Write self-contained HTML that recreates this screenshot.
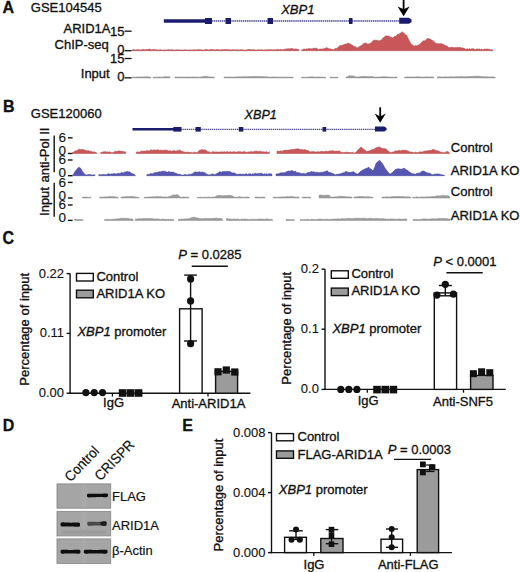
<!DOCTYPE html>
<html><head><meta charset="utf-8"><style>
html,body{margin:0;padding:0;background:#fff;}
body{width:520px;height:572px;overflow:hidden;font-family:"Liberation Sans", sans-serif;}
svg{display:block;}
</style></head><body>
<svg width="520" height="572" viewBox="0 0 520 572" font-family='"Liberation Sans", sans-serif'>
<style>text{stroke:#111;stroke-width:0.32px;} .thin{stroke-width:0.12px;} .mid{stroke-width:0.18px;}</style>
<rect width="520" height="572" fill="#fff"/>
<text x="2.50" y="13.10" font-size="16" text-anchor="start" font-weight="bold" font-style="normal" fill="#111" >A</text>
<text x="30.80" y="11.50" font-size="13" text-anchor="start" font-weight="normal" font-style="normal" fill="#111" >GSE104545</text>
<text x="281.20" y="13.80" font-size="13" text-anchor="start" font-weight="normal" font-style="italic" fill="#111" >XBP1</text>
<line x1="163.80" y1="21.00" x2="205.00" y2="21.00" stroke="#1c1c6e" stroke-width="3.3" />
<line x1="205.00" y1="21.00" x2="400.00" y2="21.00" stroke="#4a4a98" stroke-width="1.5" stroke-dasharray="1.5 0.6"/>
<rect x="205.00" y="18.00" width="7.00" height="6.00" fill="#1c1c6e" stroke="none" stroke-width="0" />
<rect x="225.50" y="18.00" width="5.50" height="6.00" fill="#1c1c6e" stroke="none" stroke-width="0" />
<rect x="267.50" y="18.00" width="5.50" height="6.00" fill="#1c1c6e" stroke="none" stroke-width="0" />
<rect x="349.00" y="18.00" width="3.50" height="6.00" fill="#1c1c6e" stroke="none" stroke-width="0" />
<path d="M399.2,17.8 L408.8,17.8 L411.5,19.4 L411.5,22.2 L408.8,23.8 L399.2,23.8 Z" fill="#1c1c6e"/>
<line x1="403.60" y1="0.00" x2="403.60" y2="10.00" stroke="#000" stroke-width="1.8" />
<path d="M397.6,6.4 L403.6,9.2 L409.6,6.4 L403.6,16.2 Z" fill="#000"/>
<text x="110.50" y="33.00" font-size="13" text-anchor="end" font-weight="normal" font-style="normal" fill="#111" >ARID1A</text>
<text x="108.80" y="49.10" font-size="13" text-anchor="end" font-weight="normal" font-style="normal" fill="#111" >ChIP-seq</text>
<text x="109.70" y="77.70" font-size="13" text-anchor="end" font-weight="normal" font-style="normal" fill="#111" >Input</text>
<text x="124.40" y="36.40" font-size="13" text-anchor="end" font-weight="normal" font-style="normal" fill="#111" >15</text>
<line x1="124.60" y1="31.20" x2="131.60" y2="31.20" stroke="#111" stroke-width="1.3" />
<text x="124.40" y="54.40" font-size="13" text-anchor="end" font-weight="normal" font-style="normal" fill="#111" >0</text>
<line x1="124.60" y1="50.70" x2="131.60" y2="50.70" stroke="#111" stroke-width="1.3" />
<text x="124.40" y="63.40" font-size="13" text-anchor="end" font-weight="normal" font-style="normal" fill="#111" >15</text>
<line x1="124.60" y1="58.50" x2="131.60" y2="58.50" stroke="#111" stroke-width="1.3" />
<text x="124.40" y="81.20" font-size="13" text-anchor="end" font-weight="normal" font-style="normal" fill="#111" >0</text>
<line x1="124.60" y1="77.80" x2="131.60" y2="77.80" stroke="#111" stroke-width="1.3" />
<path d="M132.00,50.70 L132.00,50.10 L133.00,49.59 L134.00,49.63 L135.00,50.01 L136.00,49.79 L137.00,49.80 L138.00,49.61 L139.00,49.47 L140.00,50.00 L141.00,50.03 L142.00,49.35 L143.00,49.65 L144.00,49.36 L145.00,49.94 L146.00,49.55 L147.00,49.31 L148.00,49.67 L149.00,49.07 L150.00,49.08 L151.00,49.81 L152.00,49.84 L153.00,49.46 L154.00,49.17 L155.00,49.65 L156.00,49.81 L157.00,49.67 L158.00,50.02 L159.00,49.89 L160.00,49.75 L161.00,49.72 L162.00,49.95 L163.00,49.97 L164.00,50.00 L165.00,49.83 L166.00,49.98 L167.00,50.10 L168.00,49.58 L169.00,49.83 L170.00,49.78 L171.00,50.10 L172.00,49.53 L173.00,49.66 L174.00,50.10 L175.00,50.10 L176.00,49.83 L177.00,49.85 L178.00,49.69 L179.00,50.10 L180.00,49.82 L181.00,49.96 L182.00,50.10 L183.00,49.99 L184.00,49.73 L185.00,49.74 L186.00,49.99 L187.00,49.90 L188.00,50.10 L189.00,50.10 L190.00,49.67 L191.00,49.96 L192.00,50.10 L193.00,49.81 L194.00,49.66 L195.00,49.67 L196.00,49.88 L197.00,49.81 L198.00,49.74 L199.00,49.50 L200.00,49.68 L201.00,49.79 L202.00,49.71 L203.00,50.08 L204.00,50.07 L205.00,49.54 L206.00,49.31 L207.00,49.63 L208.00,49.79 L209.00,49.96 L210.00,49.70 L211.00,49.31 L212.00,49.48 L213.00,49.67 L214.00,49.41 L215.00,49.91 L216.00,49.69 L217.00,49.34 L218.00,49.64 L219.00,49.73 L220.00,49.88 L221.00,49.66 L222.00,49.34 L223.00,50.10 L224.00,49.49 L225.00,49.46 L226.00,49.41 L227.00,49.53 L228.00,49.48 L229.00,49.72 L230.00,49.68 L231.00,49.80 L232.00,50.10 L233.00,49.45 L234.00,49.69 L235.00,49.99 L236.00,49.75 L237.00,49.77 L238.00,49.87 L239.00,49.89 L240.00,49.74 L241.00,49.67 L242.00,49.68 L243.00,49.81 L244.00,50.10 L245.00,50.00 L246.00,50.04 L247.00,49.72 L248.00,49.50 L249.00,49.56 L250.00,49.56 L251.00,49.54 L252.00,49.98 L253.00,49.50 L254.00,49.62 L255.00,50.08 L256.00,50.10 L257.00,50.10 L258.00,49.52 L259.00,49.91 L260.00,50.01 L261.00,49.59 L262.00,49.80 L263.00,50.01 L264.00,49.93 L265.00,49.63 L266.00,49.91 L267.00,49.81 L268.00,49.45 L269.00,49.65 L270.00,49.74 L271.00,49.61 L272.00,49.96 L273.00,49.66 L274.00,49.62 L275.00,49.80 L276.00,49.85 L277.00,49.21 L278.00,49.51 L279.00,49.74 L280.00,49.42 L281.00,49.17 L282.00,49.72 L283.00,49.65 L284.00,49.46 L285.00,48.92 L286.00,49.29 L287.00,48.78 L288.00,48.72 L289.00,48.74 L290.00,48.92 L291.00,48.38 L292.00,48.58 L293.00,48.86 L294.00,49.15 L295.00,48.87 L296.00,49.13 L297.00,49.04 L298.00,49.58 L299.00,49.66 L299.00,50.70 Z" fill="#c9575a" stroke="#b0474a" stroke-width="0.5" stroke-linejoin="round"/>
<path d="M301.50,50.70 L301.50,50.10 L302.50,49.81 L303.50,49.10 L304.50,48.99 L305.50,49.30 L306.50,48.76 L307.50,49.10 L308.50,48.50 L309.50,48.55 L310.50,48.72 L311.50,48.75 L312.50,48.84 L313.50,48.05 L314.50,48.62 L315.50,48.08 L316.50,48.25 L317.50,48.84 L318.50,49.44 L319.50,49.17 L320.50,49.08 L321.50,49.01 L322.50,48.88 L323.50,48.71 L324.50,48.45 L325.50,48.28 L326.50,47.62 L327.50,48.00 L328.50,48.50 L329.50,48.88 L330.50,48.74 L331.50,49.35 L332.50,49.49 L333.50,49.94 L334.50,48.91 L335.50,48.29 L336.50,48.39 L337.50,47.65 L338.50,46.95 L339.50,45.83 L340.50,45.49 L341.50,45.55 L342.50,45.36 L343.50,44.70 L344.50,44.28 L345.50,43.91 L346.50,44.09 L347.50,43.37 L348.50,43.24 L349.50,43.69 L350.50,43.83 L351.50,44.97 L352.50,45.12 L353.50,46.17 L354.50,46.64 L355.50,46.59 L356.50,47.69 L357.50,47.79 L358.50,47.22 L359.50,46.32 L360.50,46.00 L361.50,45.32 L362.50,44.66 L363.50,43.50 L364.50,43.25 L365.50,43.07 L366.50,43.23 L367.50,43.94 L368.50,43.71 L369.50,43.79 L370.50,43.19 L371.50,42.50 L372.50,41.21 L373.50,40.62 L374.50,39.93 L375.50,40.24 L376.50,40.19 L377.50,40.22 L378.50,40.71 L379.50,40.73 L380.50,40.32 L381.50,39.66 L382.50,38.74 L383.50,37.46 L384.50,36.95 L385.50,35.88 L386.50,35.69 L387.50,36.12 L388.50,35.99 L389.50,36.25 L390.50,37.18 L391.50,36.94 L392.50,37.68 L393.50,37.50 L394.50,36.26 L395.50,36.31 L396.50,35.53 L397.50,34.30 L398.50,34.13 L399.50,33.75 L400.50,33.09 L401.50,32.41 L402.50,31.69 L403.50,33.13 L404.50,33.41 L405.50,34.77 L406.50,35.22 L407.50,37.06 L408.50,39.35 L409.50,41.17 L410.50,42.79 L411.50,44.63 L412.50,44.74 L413.50,45.78 L414.50,46.16 L415.50,45.28 L416.50,45.72 L417.50,45.38 L418.50,45.04 L419.50,44.35 L420.50,43.75 L421.50,42.27 L422.50,41.42 L423.50,40.75 L424.50,40.87 L425.50,40.23 L426.50,39.35 L427.50,38.51 L428.50,38.58 L429.50,38.86 L430.50,39.28 L431.50,40.00 L432.50,40.17 L433.50,41.17 L434.50,42.03 L435.50,42.98 L436.50,43.63 L437.50,43.35 L438.50,43.83 L439.50,43.71 L440.50,43.77 L441.50,43.58 L442.50,44.07 L443.50,44.50 L444.50,45.07 L445.50,45.66 L446.50,45.82 L447.50,46.37 L448.50,47.42 L449.50,47.61 L450.50,47.40 L451.50,47.34 L452.50,47.28 L453.50,47.53 L454.50,47.67 L455.50,47.45 L456.50,47.55 L457.50,47.13 L458.50,47.47 L459.50,47.50 L460.50,47.35 L461.50,47.92 L462.50,47.81 L463.50,48.34 L464.50,48.34 L465.50,49.18 L466.50,48.92 L467.50,48.71 L468.50,49.30 L469.50,48.62 L470.50,49.27 L471.50,48.80 L472.50,48.66 L473.50,48.81 L474.50,49.23 L475.50,49.42 L476.50,49.12 L477.50,48.81 L478.50,49.33 L479.50,48.87 L480.50,49.50 L481.50,48.91 L482.50,49.63 L483.50,49.43 L484.50,48.99 L485.50,49.09 L486.50,49.03 L487.50,49.11 L488.50,49.21 L489.50,49.28 L490.50,49.71 L491.50,49.53 L492.50,49.77 L493.00,50.70 Z" fill="#c9575a" stroke="#b0474a" stroke-width="0.5" stroke-linejoin="round"/>
<path d="M132.00,77.90 L132.00,77.02 L133.00,76.99 L134.00,77.30 L135.00,77.27 L136.00,76.94 L137.00,76.95 L138.00,76.95 L139.00,77.06 L140.00,76.91 L141.00,76.88 L142.00,76.86 L143.00,77.00 L144.00,76.86 L145.00,76.84 L146.00,76.77 L147.00,76.72 L148.00,76.80 L149.00,77.02 L150.00,77.12 L151.00,77.19 L151.00,77.90 Z" fill="#9c9c9c" stroke="#8a8a8a" stroke-width="0.5" stroke-linejoin="round"/>
<path d="M153.00,77.90 L153.00,77.29 L154.00,77.29 L155.00,77.11 L156.00,77.17 L157.00,77.15 L158.00,76.94 L159.00,77.09 L160.00,77.08 L161.00,77.13 L162.00,77.13 L163.00,76.93 L164.00,76.93 L165.00,76.70 L166.00,76.54 L167.00,76.71 L168.00,76.95 L169.00,76.70 L170.00,76.78 L170.00,77.90 Z" fill="#9c9c9c" stroke="#8a8a8a" stroke-width="0.5" stroke-linejoin="round"/>
<path d="M175.00,77.90 L175.00,77.01 L176.00,76.94 L177.00,76.99 L178.00,76.98 L179.00,77.16 L180.00,76.91 L181.00,76.92 L182.00,77.24 L183.00,77.00 L184.00,77.01 L185.00,77.12 L186.00,77.09 L187.00,77.10 L188.00,76.93 L189.00,77.10 L190.00,76.97 L191.00,77.16 L192.00,76.95 L193.00,76.94 L194.00,77.12 L195.00,77.07 L196.00,76.93 L197.00,77.01 L198.00,77.11 L199.00,77.21 L200.00,77.17 L201.00,76.86 L202.00,76.91 L203.00,76.46 L204.00,76.55 L205.00,76.14 L206.00,76.52 L207.00,76.40 L208.00,76.64 L209.00,76.86 L210.00,76.99 L211.00,76.94 L212.00,76.97 L213.00,77.09 L214.00,77.14 L214.60,77.90 Z" fill="#9c9c9c" stroke="#8a8a8a" stroke-width="0.5" stroke-linejoin="round"/>
<path d="M224.00,77.90 L224.00,77.07 L225.00,76.90 L226.00,77.03 L227.00,77.25 L228.00,76.96 L229.00,77.00 L230.00,76.94 L231.00,77.19 L232.00,76.94 L233.00,77.19 L234.00,76.92 L235.00,77.04 L236.00,77.03 L237.00,76.74 L238.00,77.02 L239.00,76.83 L240.00,76.66 L241.00,76.88 L242.00,76.86 L243.00,76.57 L244.00,76.72 L245.00,76.57 L246.00,76.82 L247.00,76.66 L248.00,76.71 L249.00,76.48 L250.00,76.69 L251.00,76.32 L252.00,76.66 L253.00,76.36 L254.00,76.62 L255.00,76.50 L256.00,76.29 L257.00,76.58 L258.00,76.59 L259.00,76.40 L260.00,76.55 L261.00,76.70 L262.00,76.34 L263.00,76.70 L264.00,76.77 L265.00,76.66 L266.00,76.63 L267.00,76.65 L268.00,76.97 L269.00,76.95 L270.00,77.14 L271.00,77.05 L272.00,76.99 L273.00,77.00 L274.00,76.94 L275.00,77.00 L276.00,76.96 L277.00,77.02 L278.00,77.11 L279.00,77.21 L280.00,77.04 L281.00,77.17 L282.00,77.26 L283.00,77.12 L284.00,76.95 L285.00,77.25 L286.00,77.07 L287.00,77.14 L288.00,77.09 L289.00,77.24 L290.00,76.92 L291.00,77.20 L292.00,77.06 L293.00,77.13 L293.50,77.90 Z" fill="#9c9c9c" stroke="#8a8a8a" stroke-width="0.5" stroke-linejoin="round"/>
<path d="M301.50,77.90 L301.50,77.28 L302.50,77.05 L303.50,77.21 L304.50,77.23 L305.50,77.23 L306.50,77.17 L307.50,77.19 L308.50,76.96 L309.50,77.00 L310.50,76.81 L311.50,76.83 L312.50,76.81 L313.50,77.12 L314.50,77.04 L315.50,77.13 L316.50,77.00 L317.50,76.99 L318.50,76.92 L319.50,76.96 L320.50,77.15 L321.50,77.09 L322.50,77.05 L323.50,77.27 L324.50,77.26 L325.50,77.11 L326.00,77.90 Z" fill="#9c9c9c" stroke="#8a8a8a" stroke-width="0.5" stroke-linejoin="round"/>
<path d="M330.00,77.90 L330.00,77.26 L331.00,77.00 L332.00,77.19 L333.00,77.24 L334.00,77.20 L335.00,77.18 L336.00,77.18 L337.00,77.05 L338.00,77.07 L338.00,77.90 Z" fill="#9c9c9c" stroke="#8a8a8a" stroke-width="0.5" stroke-linejoin="round"/>
<path d="M346.00,77.90 L346.00,77.08 L347.00,76.94 L348.00,76.57 L349.00,75.74 L350.00,75.71 L351.00,75.81 L352.00,75.93 L353.00,75.90 L354.00,75.87 L355.00,76.63 L356.00,77.03 L357.00,76.91 L358.00,76.96 L359.00,76.91 L360.00,76.55 L361.00,76.64 L362.00,76.49 L363.00,76.33 L364.00,76.46 L365.00,76.58 L366.00,76.31 L367.00,76.55 L368.00,76.69 L369.00,76.43 L370.00,76.66 L371.00,76.58 L372.00,76.36 L373.00,76.63 L374.00,77.09 L375.00,77.12 L376.00,77.10 L377.00,77.03 L378.00,77.10 L379.00,76.90 L380.00,77.07 L381.00,76.95 L382.00,76.87 L383.00,76.61 L384.00,76.91 L385.00,76.60 L386.00,76.88 L387.00,76.79 L388.00,76.91 L389.00,76.94 L390.00,76.88 L391.00,77.08 L392.00,77.25 L393.00,77.24 L394.00,77.25 L395.00,76.94 L396.00,77.01 L397.00,76.88 L397.00,77.90 Z" fill="#9c9c9c" stroke="#8a8a8a" stroke-width="0.5" stroke-linejoin="round"/>
<path d="M404.60,77.90 L404.60,76.93 L405.60,77.19 L406.60,76.93 L407.60,76.87 L408.60,76.89 L409.60,76.97 L410.60,77.02 L411.60,76.97 L412.60,76.83 L413.60,77.04 L414.60,76.93 L415.60,76.94 L416.60,76.74 L417.60,76.79 L418.60,76.74 L419.60,76.77 L420.60,76.98 L421.60,77.02 L422.60,76.92 L423.60,77.01 L424.60,76.95 L425.60,76.86 L426.60,76.77 L427.60,76.90 L428.60,76.82 L429.60,77.11 L430.60,77.01 L431.60,76.76 L432.60,77.10 L433.60,77.00 L434.00,77.90 Z" fill="#9c9c9c" stroke="#8a8a8a" stroke-width="0.5" stroke-linejoin="round"/>
<path d="M437.00,77.90 L437.00,77.16 L438.00,77.16 L439.00,76.84 L440.00,76.80 L441.00,76.93 L442.00,77.12 L443.00,77.04 L444.00,77.05 L445.00,76.87 L446.00,76.85 L447.00,76.93 L448.00,76.88 L449.00,77.04 L450.00,76.85 L451.00,76.67 L452.00,76.74 L453.00,76.99 L454.00,76.81 L455.00,76.71 L456.00,76.88 L457.00,76.62 L458.00,76.78 L459.00,76.67 L460.00,76.77 L461.00,76.52 L462.00,76.59 L463.00,76.66 L464.00,76.82 L465.00,76.69 L466.00,76.84 L467.00,76.60 L468.00,76.47 L469.00,76.74 L470.00,76.60 L471.00,76.54 L472.00,76.51 L473.00,76.33 L474.00,76.18 L475.00,76.21 L476.00,76.24 L477.00,75.98 L478.00,76.17 L479.00,76.15 L480.00,76.34 L481.00,76.45 L482.00,76.56 L483.00,76.84 L484.00,76.71 L485.00,76.83 L486.00,76.76 L487.00,76.66 L488.00,76.83 L489.00,77.11 L490.00,76.96 L491.00,76.89 L492.00,76.85 L493.00,76.98 L494.00,76.94 L495.00,77.29 L495.60,77.90 Z" fill="#9c9c9c" stroke="#8a8a8a" stroke-width="0.5" stroke-linejoin="round"/>
<text x="2.90" y="111.60" font-size="16" text-anchor="start" font-weight="bold" font-style="normal" fill="#111" >B</text>
<text x="30.80" y="118.20" font-size="13" text-anchor="start" font-weight="normal" font-style="normal" fill="#111" >GSE120060</text>
<text x="244.60" y="119.00" font-size="12.6" text-anchor="start" font-weight="normal" font-style="italic" fill="#111" >XBP1</text>
<line x1="132.50" y1="129.30" x2="174.00" y2="129.30" stroke="#1c1c6e" stroke-width="2.6" />
<line x1="174.00" y1="129.30" x2="376.00" y2="129.30" stroke="#48488f" stroke-width="1.2" stroke-dasharray="1.4 0.7"/>
<rect x="173.30" y="127.00" width="8.20" height="4.60" fill="#1c1c6e" stroke="none" stroke-width="0" />
<rect x="195.50" y="127.00" width="5.30" height="4.60" fill="#1c1c6e" stroke="none" stroke-width="0" />
<rect x="238.80" y="127.00" width="4.50" height="4.60" fill="#1c1c6e" stroke="none" stroke-width="0" />
<rect x="322.50" y="127.00" width="3.70" height="4.60" fill="#1c1c6e" stroke="none" stroke-width="0" />
<path d="M375,126.6 L384.2,126.6 L386.6,128.1 L386.6,130.1 L384.2,131.4 L375,131.4 Z" fill="#1c1c6e"/>
<line x1="380.20" y1="107.30" x2="380.20" y2="117.00" stroke="#000" stroke-width="1.8" />
<path d="M374.6,113.6 L380.2,116.4 L385.8,113.6 L380.2,122.8 Z" fill="#000"/>
<text transform="translate(49.2,155) rotate(-90)" font-size="13" text-anchor="middle" fill="#111">anti-Pol II</text>
<text transform="translate(49.2,201.5) rotate(-90)" font-size="13" text-anchor="middle" fill="#111">Input</text>
<line x1="54.20" y1="135.50" x2="54.20" y2="172.20" stroke="#111" stroke-width="1.4" />
<line x1="54.20" y1="182.70" x2="54.20" y2="216.80" stroke="#111" stroke-width="1.4" />
<text x="65.90" y="142.10" font-size="13.5" text-anchor="end" font-weight="normal" font-style="normal" fill="#111" class="thin">6</text>
<text x="65.90" y="155.00" font-size="13.5" text-anchor="end" font-weight="normal" font-style="normal" fill="#111" class="thin">0</text>
<line x1="67.90" y1="137.80" x2="72.60" y2="137.80" stroke="#111" stroke-width="1.4" />
<line x1="67.90" y1="153.50" x2="72.60" y2="153.50" stroke="#111" stroke-width="1.4" />
<text x="65.90" y="164.30" font-size="13.5" text-anchor="end" font-weight="normal" font-style="normal" fill="#111" class="thin">6</text>
<text x="65.90" y="177.20" font-size="13.5" text-anchor="end" font-weight="normal" font-style="normal" fill="#111" class="thin">0</text>
<line x1="67.90" y1="160.00" x2="72.60" y2="160.00" stroke="#111" stroke-width="1.4" />
<line x1="67.90" y1="175.70" x2="72.60" y2="175.70" stroke="#111" stroke-width="1.4" />
<text x="65.90" y="186.70" font-size="13.5" text-anchor="end" font-weight="normal" font-style="normal" fill="#111" class="thin">6</text>
<text x="65.90" y="199.50" font-size="13.5" text-anchor="end" font-weight="normal" font-style="normal" fill="#111" class="thin">0</text>
<line x1="67.90" y1="182.40" x2="72.60" y2="182.40" stroke="#111" stroke-width="1.4" />
<line x1="67.90" y1="198.00" x2="72.60" y2="198.00" stroke="#111" stroke-width="1.4" />
<text x="65.90" y="209.30" font-size="13.5" text-anchor="end" font-weight="normal" font-style="normal" fill="#111" class="thin">6</text>
<text x="65.90" y="221.90" font-size="13.5" text-anchor="end" font-weight="normal" font-style="normal" fill="#111" class="thin">0</text>
<line x1="67.90" y1="205.00" x2="72.60" y2="205.00" stroke="#111" stroke-width="1.4" />
<line x1="67.90" y1="220.40" x2="72.60" y2="220.40" stroke="#111" stroke-width="1.4" />
<path d="M71.80,153.50 L71.80,152.90 L72.80,152.40 L73.80,152.01 L74.80,151.22 L75.80,150.64 L76.80,150.64 L77.80,150.13 L78.80,148.89 L79.80,149.59 L80.80,149.74 L81.80,149.10 L82.80,149.75 L83.80,149.56 L84.80,150.15 L85.80,150.22 L86.80,150.94 L87.80,150.69 L88.80,150.69 L89.80,151.22 L90.80,151.18 L91.80,151.43 L92.80,152.22 L93.80,151.70 L94.80,152.05 L95.80,152.52 L96.80,152.90 L96.80,153.50 Z" fill="#c9575a" stroke="#b0474a" stroke-width="0.5" stroke-linejoin="round"/>
<path d="M100.70,153.50 L100.70,152.13 L101.70,152.38 L102.70,151.99 L103.70,151.68 L104.70,151.70 L105.70,151.40 L106.70,152.05 L107.70,151.76 L108.70,152.24 L109.70,151.87 L110.70,152.05 L111.70,152.81 L112.70,152.55 L113.70,152.25 L114.70,151.28 L115.70,151.59 L116.70,151.18 L117.70,151.29 L118.70,150.86 L119.70,151.07 L120.70,151.33 L121.70,151.32 L122.70,151.54 L123.70,151.45 L124.70,151.89 L125.70,151.87 L125.70,153.50 Z" fill="#c9575a" stroke="#b0474a" stroke-width="0.5" stroke-linejoin="round"/>
<path d="M136.30,153.50 L136.30,152.14 L137.30,151.83 L138.30,151.97 L139.30,152.30 L140.30,151.42 L141.30,151.14 L142.30,151.02 L143.30,151.19 L144.30,150.92 L145.30,151.29 L146.30,150.54 L147.30,150.67 L148.30,150.82 L149.30,150.91 L150.30,149.99 L151.30,149.73 L152.30,150.50 L153.30,149.66 L154.30,149.92 L155.30,150.19 L156.30,150.10 L157.30,149.68 L158.30,149.63 L159.30,150.51 L160.30,149.99 L161.30,150.61 L162.30,149.99 L163.30,150.43 L164.30,149.94 L165.30,149.91 L166.30,150.45 L167.30,150.02 L168.30,150.78 L169.30,151.08 L170.30,150.59 L171.30,151.14 L172.30,150.96 L173.30,150.73 L174.30,150.50 L175.30,150.94 L176.30,151.03 L177.30,150.19 L178.30,150.72 L179.30,150.06 L180.30,150.21 L181.30,151.09 L182.30,151.37 L183.30,151.67 L184.30,151.90 L185.30,152.21 L186.30,152.26 L187.30,152.22 L188.30,151.91 L189.30,152.36 L190.30,152.46 L191.30,152.18 L192.30,152.68 L193.30,152.64 L194.30,151.98 L195.30,152.45 L196.30,152.44 L197.30,152.71 L198.30,151.37 L199.30,150.27 L200.30,150.18 L201.30,149.58 L202.30,149.57 L203.30,150.14 L204.30,149.57 L205.30,149.96 L206.30,150.52 L207.30,151.61 L208.30,151.79 L209.30,151.74 L210.30,152.45 L211.30,152.39 L212.30,151.77 L213.30,151.46 L214.30,152.16 L215.30,151.94 L216.30,151.79 L217.30,152.05 L218.30,152.00 L219.30,152.03 L220.30,151.96 L221.30,151.72 L222.30,152.00 L223.30,151.91 L224.30,151.51 L225.30,152.24 L226.30,151.68 L227.30,151.50 L228.30,151.91 L229.30,151.99 L230.30,151.40 L231.30,151.97 L232.30,152.04 L233.30,151.80 L234.30,151.54 L235.30,152.15 L236.30,151.94 L237.30,151.94 L238.30,151.45 L239.30,151.85 L240.30,151.45 L241.30,152.14 L242.30,151.99 L243.30,151.68 L244.30,151.46 L245.30,151.90 L246.30,152.14 L247.30,152.25 L248.30,151.85 L249.30,152.20 L250.30,151.56 L251.30,151.43 L252.30,151.99 L253.30,151.79 L254.30,151.16 L255.30,151.23 L256.30,150.96 L257.30,151.32 L258.30,151.50 L259.30,151.46 L260.30,151.07 L261.30,151.71 L262.30,151.75 L263.30,151.79 L264.30,151.90 L265.30,152.00 L266.30,151.51 L267.30,152.29 L268.30,152.46 L269.30,151.54 L269.40,153.50 Z" fill="#c9575a" stroke="#b0474a" stroke-width="0.5" stroke-linejoin="round"/>
<path d="M277.00,153.50 L277.00,151.27 L278.00,151.11 L279.00,151.62 L280.00,151.05 L281.00,150.87 L282.00,151.38 L283.00,150.65 L284.00,150.36 L285.00,150.34 L286.00,150.28 L287.00,150.31 L288.00,150.06 L289.00,149.97 L290.00,149.93 L291.00,149.37 L292.00,149.63 L293.00,149.06 L294.00,149.78 L295.00,148.88 L296.00,149.05 L297.00,148.78 L298.00,148.87 L299.00,148.93 L300.00,149.31 L301.00,149.94 L302.00,149.27 L303.00,149.90 L304.00,149.84 L305.00,149.54 L306.00,150.08 L307.00,150.59 L308.00,150.46 L309.00,151.19 L310.00,151.86 L311.00,151.97 L312.00,151.38 L313.00,151.78 L314.00,151.50 L315.00,151.95 L316.00,152.12 L317.00,151.81 L318.00,151.54 L319.00,152.21 L320.00,151.61 L321.00,151.38 L322.00,151.39 L323.00,151.28 L324.00,151.99 L325.00,151.27 L326.00,150.94 L327.00,151.65 L328.00,151.33 L329.00,151.23 L330.00,150.87 L331.00,150.95 L332.00,150.87 L333.00,150.54 L334.00,151.28 L335.00,151.20 L336.00,151.10 L337.00,151.08 L338.00,151.45 L339.00,150.87 L340.00,151.31 L341.00,152.39 L342.00,152.30 L343.00,152.47 L344.00,152.46 L345.00,152.41 L346.00,152.10 L347.00,152.15 L348.00,152.36 L349.00,152.52 L350.00,152.37 L351.00,152.72 L352.00,152.42 L353.00,152.40 L354.00,152.88 L355.00,152.90 L356.00,152.25 L357.00,151.09 L358.00,149.90 L359.00,148.75 L360.00,148.19 L361.00,146.80 L362.00,147.74 L363.00,148.70 L364.00,149.53 L365.00,150.17 L366.00,150.73 L367.00,151.78 L368.00,151.09 L369.00,150.90 L370.00,150.69 L371.00,149.98 L372.00,149.40 L373.00,149.66 L374.00,148.94 L375.00,148.57 L376.00,147.75 L377.00,147.33 L378.00,147.52 L379.00,146.76 L380.00,147.18 L381.00,148.02 L382.00,148.12 L383.00,148.77 L384.00,148.39 L385.00,148.85 L386.00,149.10 L387.00,149.93 L388.00,150.78 L389.00,151.45 L390.00,152.34 L391.00,152.87 L392.00,152.01 L393.00,152.22 L394.00,151.71 L395.00,150.70 L396.00,151.06 L397.00,150.96 L398.00,150.90 L399.00,150.07 L400.00,150.72 L401.00,150.82 L402.00,149.95 L403.00,150.62 L404.00,149.91 L405.00,150.34 L406.00,150.43 L407.00,150.57 L408.00,151.20 L409.00,151.24 L410.00,152.26 L411.00,151.79 L412.00,152.30 L413.00,152.36 L414.00,152.90 L415.00,152.31 L416.00,152.04 L417.00,152.82 L418.00,152.47 L419.00,152.14 L420.00,151.70 L421.00,152.10 L422.00,151.99 L423.00,151.74 L424.00,151.20 L425.00,150.89 L426.00,151.07 L427.00,150.92 L428.00,150.71 L429.00,150.58 L430.00,150.34 L431.00,150.49 L432.00,149.90 L433.00,149.25 L434.00,149.80 L435.00,149.82 L436.00,150.77 L437.00,150.60 L438.00,150.89 L439.00,151.34 L440.00,151.85 L441.00,152.25 L442.00,152.45 L443.00,152.18 L444.00,152.75 L445.00,152.63 L446.00,151.80 L447.00,151.46 L448.00,151.68 L449.00,152.29 L449.50,153.50 Z" fill="#c9575a" stroke="#b0474a" stroke-width="0.5" stroke-linejoin="round"/>
<path d="M72.80,175.70 L72.80,175.10 L73.80,173.79 L74.80,171.80 L75.80,170.38 L76.80,169.28 L77.80,168.08 L78.80,167.16 L79.80,167.63 L80.80,168.47 L81.80,170.48 L82.80,171.64 L83.80,173.20 L84.80,174.24 L85.80,174.81 L86.80,175.10 L87.80,174.47 L88.80,174.57 L89.80,174.59 L90.80,174.60 L91.80,175.10 L92.80,175.09 L93.80,174.77 L94.80,174.67 L94.90,175.70 Z" fill="#5656b2" stroke="#3c3c99" stroke-width="0.5" stroke-linejoin="round"/>
<path d="M98.80,175.70 L98.80,174.55 L99.80,174.44 L100.80,175.10 L101.80,174.56 L102.80,174.42 L103.80,174.50 L104.80,174.75 L105.80,174.38 L106.80,174.70 L107.80,173.81 L108.80,173.84 L109.80,174.11 L110.80,174.32 L111.80,173.67 L112.80,173.96 L113.80,173.61 L114.80,173.60 L115.80,173.90 L116.80,173.81 L117.80,173.41 L118.80,173.37 L119.80,173.42 L120.80,173.06 L121.80,172.34 L122.80,172.89 L123.80,172.67 L124.80,171.88 L125.80,172.01 L126.80,171.54 L127.80,171.51 L128.80,172.07 L129.80,171.85 L130.80,173.08 L131.80,173.29 L132.80,173.93 L133.80,173.92 L134.80,174.71 L135.30,175.70 Z" fill="#5656b2" stroke="#3c3c99" stroke-width="0.5" stroke-linejoin="round"/>
<path d="M146.80,175.70 L146.80,174.84 L147.80,174.21 L148.80,174.39 L149.80,173.91 L150.80,173.32 L151.80,173.88 L152.80,173.67 L153.80,173.26 L154.80,172.48 L155.80,172.38 L156.80,172.52 L157.80,172.18 L158.80,172.09 L159.80,171.56 L160.80,171.89 L161.80,171.30 L162.80,171.17 L163.80,171.17 L164.80,171.46 L165.80,171.30 L166.80,172.30 L167.80,172.10 L168.80,171.53 L169.80,171.83 L170.80,172.31 L171.80,171.89 L172.80,172.33 L173.80,172.24 L174.80,172.88 L175.80,173.33 L176.80,173.48 L177.80,174.18 L178.80,174.34 L179.80,174.16 L180.80,174.85 L181.80,175.10 L182.80,175.10 L183.80,174.95 L184.80,174.32 L185.80,174.72 L186.80,174.77 L187.80,174.95 L188.80,174.04 L189.80,174.58 L190.80,174.34 L191.80,173.93 L192.80,173.38 L193.80,172.70 L194.80,171.64 L195.80,172.10 L196.80,172.27 L197.80,171.88 L198.80,172.19 L199.80,171.50 L200.80,172.44 L201.80,172.10 L202.80,171.91 L203.80,172.66 L204.80,172.54 L205.80,173.51 L206.80,174.21 L207.80,174.50 L208.80,174.93 L209.80,174.50 L210.80,174.63 L211.80,173.95 L212.80,173.96 L213.80,174.25 L214.80,174.68 L215.80,174.05 L216.80,173.56 L217.80,173.09 L218.80,172.57 L219.80,171.43 L220.80,172.06 L221.80,172.15 L222.80,171.27 L223.80,171.63 L224.80,171.21 L225.80,171.80 L226.80,171.30 L227.80,171.55 L228.80,171.41 L229.80,171.46 L230.80,172.01 L231.80,172.80 L232.80,173.07 L233.80,172.79 L234.80,173.15 L235.80,173.51 L236.80,174.49 L237.80,174.23 L238.80,174.07 L239.80,174.21 L240.80,174.03 L241.80,174.30 L242.80,174.16 L243.80,174.11 L244.80,174.51 L245.80,173.84 L246.80,173.79 L247.80,174.66 L248.80,173.75 L249.80,173.74 L250.80,173.94 L251.80,174.45 L252.80,173.49 L253.80,174.14 L254.80,173.19 L255.80,173.38 L256.80,173.87 L257.80,173.66 L258.80,173.23 L259.80,173.39 L260.80,173.29 L261.80,173.20 L262.80,173.99 L263.80,174.29 L264.80,173.46 L265.80,174.42 L266.80,173.60 L267.80,174.40 L268.80,173.74 L269.80,173.81 L270.80,173.74 L271.80,174.08 L272.00,175.70 Z" fill="#5656b2" stroke="#3c3c99" stroke-width="0.5" stroke-linejoin="round"/>
<path d="M276.00,175.70 L276.00,173.82 L277.00,174.28 L278.00,173.58 L279.00,173.70 L280.00,172.92 L281.00,172.82 L282.00,172.90 L283.00,172.62 L284.00,172.90 L285.00,172.67 L286.00,171.84 L287.00,171.69 L288.00,171.05 L289.00,171.05 L290.00,171.25 L291.00,170.77 L292.00,170.39 L293.00,170.95 L294.00,171.78 L295.00,171.27 L296.00,171.60 L297.00,172.66 L298.00,172.52 L299.00,173.00 L300.00,172.91 L301.00,173.49 L302.00,173.67 L303.00,173.51 L304.00,173.13 L305.00,174.10 L306.00,173.80 L307.00,173.01 L308.00,172.46 L309.00,172.54 L310.00,172.34 L311.00,171.63 L312.00,171.42 L313.00,172.28 L314.00,171.60 L315.00,172.43 L316.00,172.47 L317.00,172.08 L318.00,172.63 L319.00,172.40 L320.00,172.83 L321.00,171.93 L322.00,172.42 L323.00,172.25 L324.00,171.71 L325.00,171.66 L326.00,171.26 L327.00,170.70 L328.00,171.31 L329.00,172.44 L330.00,172.56 L331.00,172.76 L332.00,173.24 L333.00,173.43 L334.00,174.09 L335.00,174.92 L336.00,174.69 L337.00,174.03 L338.00,174.46 L339.00,173.99 L340.00,173.71 L341.00,173.66 L342.00,173.19 L343.00,172.84 L344.00,172.72 L345.00,171.70 L346.00,171.73 L347.00,171.59 L348.00,172.49 L349.00,172.23 L350.00,172.61 L351.00,172.32 L352.00,172.02 L353.00,171.86 L354.00,171.85 L355.00,172.89 L356.00,173.21 L357.00,174.37 L358.00,173.74 L359.00,173.00 L360.00,171.66 L361.00,171.61 L362.00,170.21 L363.00,170.07 L364.00,169.28 L365.00,169.03 L366.00,168.28 L367.00,168.33 L368.00,167.54 L369.00,167.36 L370.00,168.81 L371.00,169.04 L372.00,170.07 L373.00,170.80 L374.00,168.81 L375.00,166.55 L376.00,163.35 L377.00,162.53 L378.00,161.61 L379.00,160.66 L380.00,160.39 L381.00,162.28 L382.00,162.95 L383.00,164.40 L384.00,166.33 L385.00,167.96 L386.00,169.75 L387.00,170.56 L388.00,172.43 L389.00,172.92 L390.00,173.92 L391.00,173.69 L392.00,172.87 L393.00,171.71 L394.00,171.29 L395.00,169.72 L396.00,169.29 L397.00,169.04 L398.00,168.69 L399.00,168.83 L400.00,169.16 L401.00,169.19 L402.00,169.03 L403.00,168.68 L404.00,168.25 L405.00,168.44 L406.00,169.62 L407.00,170.31 L408.00,170.58 L409.00,171.80 L410.00,172.30 L411.00,173.22 L412.00,173.57 L413.00,173.73 L414.00,174.10 L415.00,174.18 L416.00,174.09 L417.00,173.16 L418.00,173.14 L419.00,173.26 L420.00,173.01 L421.00,171.76 L422.00,171.40 L423.00,171.12 L424.00,171.10 L425.00,171.82 L426.00,172.47 L427.00,172.73 L428.00,173.19 L429.00,172.91 L430.00,173.38 L431.00,173.92 L432.00,174.83 L433.00,174.65 L434.00,174.50 L435.00,173.77 L436.00,174.47 L437.00,173.75 L438.00,173.90 L439.00,174.19 L440.00,173.93 L441.00,174.78 L442.00,174.67 L443.00,175.10 L444.00,175.10 L444.60,175.70 Z" fill="#5656b2" stroke="#3c3c99" stroke-width="0.5" stroke-linejoin="round"/>
<path d="M82.40,198.00 L82.40,197.13 L83.40,197.05 L84.40,197.02 L85.40,196.93 L86.40,197.06 L87.40,196.95 L88.40,197.48 L89.40,197.22 L90.40,196.93 L91.00,198.00 Z" fill="#9c9c9c" stroke="#8a8a8a" stroke-width="0.5" stroke-linejoin="round"/>
<path d="M99.70,198.00 L99.70,197.11 L100.70,196.90 L101.70,197.30 L102.70,197.00 L103.70,197.06 L104.70,196.80 L105.70,196.70 L106.70,196.96 L107.70,196.75 L108.70,196.69 L109.70,196.31 L110.70,196.40 L111.70,196.76 L112.70,196.38 L113.70,196.78 L114.70,196.49 L115.70,196.93 L116.70,197.22 L117.70,196.91 L118.40,198.00 Z" fill="#9c9c9c" stroke="#8a8a8a" stroke-width="0.5" stroke-linejoin="round"/>
<path d="M120.90,198.00 L120.90,197.37 L121.90,197.31 L122.90,196.78 L123.90,196.77 L124.90,197.05 L125.90,196.57 L126.90,196.76 L127.90,196.60 L128.90,196.82 L129.90,196.30 L130.90,196.47 L131.90,196.34 L132.90,196.42 L133.90,196.81 L134.90,196.80 L135.90,197.03 L136.90,197.16 L137.90,197.33 L138.90,197.31 L139.20,198.00 Z" fill="#9c9c9c" stroke="#8a8a8a" stroke-width="0.5" stroke-linejoin="round"/>
<path d="M144.00,198.00 L144.00,197.14 L145.00,197.45 L146.00,197.00 L147.00,197.16 L148.00,197.13 L149.00,196.78 L150.00,196.94 L151.00,196.99 L152.00,196.85 L153.00,196.67 L154.00,197.01 L155.00,196.41 L156.00,196.94 L157.00,196.46 L158.00,196.35 L159.00,196.90 L160.00,196.48 L161.00,196.78 L162.00,196.70 L163.00,197.09 L164.00,197.12 L165.00,197.09 L166.00,196.67 L167.00,197.17 L168.00,196.89 L169.00,196.46 L170.00,196.13 L171.00,196.01 L172.00,195.53 L173.00,194.95 L174.00,194.79 L175.00,195.20 L176.00,194.81 L177.00,194.78 L178.00,194.74 L179.00,196.28 L180.00,196.77 L181.00,197.30 L182.00,197.17 L183.00,197.03 L184.00,196.86 L185.00,197.22 L186.00,196.89 L187.00,197.14 L188.00,197.29 L189.00,197.31 L189.00,198.00 Z" fill="#9c9c9c" stroke="#8a8a8a" stroke-width="0.5" stroke-linejoin="round"/>
<path d="M197.00,198.00 L197.00,197.50 L198.00,197.50 L199.00,197.50 L200.00,197.19 L201.00,196.99 L202.00,197.47 L203.00,197.50 L204.00,196.94 L205.00,197.20 L206.00,197.26 L207.00,197.34 L208.00,197.11 L209.00,196.95 L210.00,197.16 L211.00,197.16 L212.00,197.36 L213.00,196.83 L214.00,197.34 L215.00,197.04 L216.00,196.12 L217.00,195.82 L218.00,195.46 L219.00,195.33 L220.00,195.52 L221.00,195.43 L222.00,195.84 L223.00,195.64 L224.00,195.81 L225.00,195.39 L226.00,195.72 L227.00,195.63 L228.00,195.30 L229.00,195.39 L230.00,195.31 L231.00,195.63 L232.00,195.61 L233.00,196.18 L234.00,197.05 L235.00,197.17 L236.00,197.11 L237.00,197.27 L238.00,197.13 L239.00,196.77 L240.00,196.80 L241.00,197.00 L242.00,197.08 L243.00,197.18 L244.00,197.34 L245.00,197.23 L246.00,196.93 L247.00,196.89 L248.00,197.20 L249.00,196.95 L249.60,198.00 Z" fill="#9c9c9c" stroke="#8a8a8a" stroke-width="0.5" stroke-linejoin="round"/>
<path d="M255.00,198.00 L255.00,196.98 L256.00,197.04 L257.00,197.06 L258.00,197.01 L259.00,197.25 L260.00,197.05 L261.00,197.31 L262.00,197.19 L263.00,197.03 L264.00,197.08 L265.00,197.32 L265.00,198.00 Z" fill="#9c9c9c" stroke="#8a8a8a" stroke-width="0.5" stroke-linejoin="round"/>
<path d="M273.50,198.00 L273.50,196.93 L274.50,197.10 L275.50,197.11 L276.50,197.42 L277.50,197.07 L278.50,197.21 L279.50,196.93 L280.50,197.03 L281.50,196.78 L282.50,196.86 L283.50,196.74 L284.50,196.98 L285.50,196.77 L286.50,196.68 L287.50,196.60 L288.50,196.85 L289.50,196.53 L290.50,196.52 L291.50,196.68 L292.50,196.55 L293.50,196.61 L294.50,196.93 L295.50,196.97 L296.50,197.23 L297.50,196.88 L298.50,196.87 L299.40,198.00 Z" fill="#9c9c9c" stroke="#8a8a8a" stroke-width="0.5" stroke-linejoin="round"/>
<path d="M302.30,198.00 L302.30,197.21 L303.30,197.09 L304.30,197.07 L305.30,197.06 L306.30,197.40 L307.30,197.03 L308.30,197.15 L309.30,197.10 L310.30,197.25 L311.00,198.00 Z" fill="#9c9c9c" stroke="#8a8a8a" stroke-width="0.5" stroke-linejoin="round"/>
<path d="M319.00,198.00 L319.00,195.27 L320.00,195.04 L321.00,195.12 L322.00,195.07 L323.00,195.48 L324.00,195.40 L325.00,195.24 L326.00,195.11 L327.00,195.37 L328.00,195.09 L329.00,195.12 L330.00,196.39 L331.00,197.06 L332.00,197.12 L333.00,197.13 L334.00,196.99 L335.00,196.79 L336.00,196.79 L337.00,196.69 L338.00,196.70 L339.00,196.35 L340.00,196.31 L341.00,196.24 L342.00,196.32 L343.00,196.60 L344.00,196.26 L345.00,196.87 L346.00,196.70 L347.00,196.84 L348.00,196.83 L349.00,197.07 L350.00,196.71 L351.00,197.05 L352.00,197.32 L352.30,198.00 Z" fill="#9c9c9c" stroke="#8a8a8a" stroke-width="0.5" stroke-linejoin="round"/>
<path d="M354.00,198.00 L354.00,196.88 L355.00,197.14 L356.00,196.82 L357.00,196.90 L358.00,196.70 L359.00,196.43 L360.00,196.46 L361.00,196.66 L362.00,196.37 L363.00,196.53 L364.00,196.75 L365.00,196.95 L366.00,196.74 L367.00,196.81 L368.00,196.63 L369.00,196.69 L370.00,196.96 L371.00,197.17 L372.00,196.91 L373.00,197.50 L373.30,198.00 Z" fill="#9c9c9c" stroke="#8a8a8a" stroke-width="0.5" stroke-linejoin="round"/>
<path d="M382.00,198.00 L382.00,197.28 L383.00,196.97 L384.00,196.92 L385.00,197.18 L386.00,196.86 L387.00,196.67 L388.00,196.95 L389.00,196.89 L390.00,196.99 L391.00,196.93 L392.00,196.49 L393.00,196.82 L394.00,196.44 L395.00,196.45 L396.00,196.61 L397.00,196.78 L398.00,196.32 L399.00,196.59 L400.00,196.61 L401.00,196.70 L402.00,196.33 L403.00,196.65 L404.00,196.80 L405.00,196.72 L406.00,196.96 L407.00,196.69 L408.00,196.83 L409.00,196.95 L410.00,196.68 L410.80,198.00 Z" fill="#9c9c9c" stroke="#8a8a8a" stroke-width="0.5" stroke-linejoin="round"/>
<path d="M412.70,198.00 L412.70,196.96 L413.70,197.48 L414.70,197.14 L415.70,197.27 L416.70,196.85 L417.70,196.92 L418.70,197.22 L419.70,197.18 L420.70,197.23 L421.70,196.70 L422.70,197.10 L423.70,196.88 L424.70,196.94 L425.70,196.81 L426.70,196.82 L427.70,196.71 L428.70,197.06 L429.70,196.65 L430.70,196.84 L431.70,196.58 L432.70,196.57 L433.70,196.48 L434.70,196.22 L435.70,196.14 L436.70,196.08 L437.70,195.73 L438.70,195.70 L439.70,195.91 L440.70,195.75 L441.70,195.63 L442.70,195.35 L443.70,195.37 L444.70,195.57 L445.70,195.89 L446.70,195.43 L447.70,195.64 L448.70,195.97 L449.70,196.50 L450.00,198.00 Z" fill="#9c9c9c" stroke="#8a8a8a" stroke-width="0.5" stroke-linejoin="round"/>
<path d="M74.70,220.40 L74.70,219.10 L75.70,219.12 L76.70,219.36 L77.70,219.53 L78.70,219.73 L79.70,219.37 L80.70,219.52 L81.70,219.38 L82.70,219.65 L83.40,220.40 Z" fill="#9c9c9c" stroke="#8a8a8a" stroke-width="0.5" stroke-linejoin="round"/>
<path d="M104.50,220.40 L104.50,219.44 L105.50,219.70 L106.50,219.34 L107.50,219.35 L108.50,219.50 L109.50,219.39 L110.50,219.26 L111.50,219.52 L112.50,219.26 L113.50,219.07 L114.50,219.36 L115.50,218.95 L116.50,218.88 L117.50,218.65 L118.50,218.82 L119.50,218.83 L120.50,218.27 L121.50,218.13 L122.50,218.21 L123.50,218.28 L124.50,218.27 L125.50,218.13 L126.50,218.46 L127.50,218.19 L128.50,218.53 L129.50,218.89 L130.50,218.74 L131.50,219.05 L132.50,218.83 L133.40,220.40 Z" fill="#9c9c9c" stroke="#8a8a8a" stroke-width="0.5" stroke-linejoin="round"/>
<path d="M135.30,220.40 L135.30,218.95 L136.30,219.11 L137.30,218.95 L138.30,218.83 L139.30,218.69 L140.30,218.50 L141.30,218.99 L142.30,218.71 L143.30,218.48 L144.30,218.58 L145.30,218.35 L146.30,218.65 L147.30,218.17 L148.30,218.38 L149.30,218.63 L150.30,218.33 L151.30,218.62 L152.30,218.77 L153.30,218.67 L154.30,218.96 L155.30,219.00 L156.30,218.68 L157.30,218.87 L158.30,219.36 L159.30,218.98 L160.30,219.49 L161.30,219.31 L162.30,218.98 L163.30,219.16 L164.30,219.36 L165.30,219.33 L166.30,219.33 L167.30,219.50 L168.30,219.00 L169.30,219.62 L170.30,219.45 L171.30,219.31 L172.30,219.57 L173.30,219.27 L174.00,220.40 Z" fill="#9c9c9c" stroke="#8a8a8a" stroke-width="0.5" stroke-linejoin="round"/>
<path d="M178.00,220.40 L178.00,219.75 L179.00,219.23 L180.00,219.20 L181.00,219.26 L182.00,219.05 L183.00,219.23 L184.00,218.92 L185.00,218.86 L186.00,218.95 L187.00,218.90 L188.00,218.68 L189.00,218.55 L190.00,218.44 L191.00,217.74 L192.00,217.73 L193.00,217.29 L194.00,216.92 L195.00,217.51 L196.00,217.83 L197.00,218.00 L198.00,217.95 L199.00,218.31 L200.00,218.60 L201.00,218.71 L202.00,218.51 L203.00,218.84 L204.00,218.67 L205.00,218.32 L206.00,218.41 L207.00,218.54 L208.00,218.42 L209.00,218.41 L210.00,218.61 L211.00,218.47 L212.00,218.52 L213.00,218.22 L214.00,218.51 L215.00,218.30 L216.00,218.12 L217.00,218.15 L218.00,218.47 L219.00,218.34 L220.00,218.51 L221.00,218.47 L222.00,218.46 L222.70,220.40 Z" fill="#9c9c9c" stroke="#8a8a8a" stroke-width="0.5" stroke-linejoin="round"/>
<path d="M226.50,220.40 L226.50,218.49 L227.50,218.45 L228.50,218.88 L229.50,219.10 L230.50,218.87 L231.50,219.16 L232.50,219.22 L233.50,218.82 L234.50,219.26 L235.50,218.94 L236.50,219.20 L237.50,218.90 L238.50,219.00 L239.50,219.52 L240.50,219.46 L241.50,219.00 L242.50,219.20 L243.50,219.30 L244.50,219.08 L245.50,219.06 L246.50,219.24 L247.50,219.25 L248.50,219.47 L249.50,219.30 L250.50,219.43 L251.50,219.13 L252.50,219.14 L253.50,219.41 L254.50,219.11 L255.50,219.42 L256.50,219.41 L257.50,219.08 L258.50,219.18 L259.50,218.92 L260.50,219.07 L261.50,219.02 L262.50,219.36 L263.50,218.93 L264.50,219.37 L265.50,219.08 L266.50,218.96 L267.50,219.03 L268.50,219.09 L269.50,219.42 L270.50,219.33 L271.50,219.34 L272.50,219.79 L273.00,220.40 Z" fill="#9c9c9c" stroke="#8a8a8a" stroke-width="0.5" stroke-linejoin="round"/>
<path d="M286.00,220.40 L286.00,219.33 L287.00,219.35 L288.00,219.64 L289.00,219.43 L290.00,219.63 L291.00,219.73 L292.00,219.47 L293.00,219.86 L294.00,219.42 L294.60,220.40 Z" fill="#9c9c9c" stroke="#8a8a8a" stroke-width="0.5" stroke-linejoin="round"/>
<path d="M300.40,220.40 L300.40,219.31 L301.40,219.71 L302.40,219.30 L303.40,219.80 L304.40,219.31 L305.40,219.65 L306.40,219.22 L307.40,219.52 L308.40,219.21 L309.40,219.73 L310.40,219.68 L311.40,219.23 L312.40,219.32 L313.40,219.36 L314.40,219.65 L315.40,219.55 L316.40,219.42 L317.40,219.59 L318.40,219.01 L319.40,219.13 L320.40,219.00 L321.40,219.14 L322.40,219.34 L323.40,219.48 L324.40,219.07 L325.40,219.43 L326.40,219.15 L327.40,219.18 L328.40,219.15 L329.40,219.38 L330.40,219.36 L331.40,219.06 L332.40,219.32 L333.40,218.98 L334.40,219.17 L335.40,219.06 L336.40,219.10 L337.40,218.81 L338.40,218.88 L339.40,218.95 L340.40,218.91 L341.40,218.67 L342.40,218.43 L343.40,218.69 L344.40,218.80 L345.40,218.68 L346.40,218.69 L347.40,218.45 L348.40,218.29 L349.40,218.38 L350.40,218.59 L351.40,218.50 L352.40,218.47 L353.40,218.44 L354.40,218.46 L355.40,218.10 L356.40,218.37 L357.40,218.30 L358.40,218.27 L359.40,218.31 L360.40,218.21 L361.40,218.47 L362.40,218.28 L363.40,218.09 L364.40,218.57 L365.40,218.29 L366.40,218.43 L367.40,218.61 L368.40,218.62 L369.40,218.18 L370.40,218.56 L371.40,218.20 L372.40,218.58 L373.40,218.46 L374.40,218.71 L375.40,218.45 L376.40,218.34 L377.40,218.72 L378.40,218.57 L379.40,218.40 L380.40,218.82 L381.40,218.76 L382.40,218.65 L383.40,218.61 L384.40,219.07 L385.40,218.82 L386.40,219.19 L387.40,219.24 L388.40,218.76 L389.40,219.36 L390.40,218.87 L391.40,218.97 L392.40,219.01 L393.40,218.98 L394.40,219.03 L395.40,219.25 L396.40,219.15 L397.40,219.30 L398.40,218.90 L399.40,218.95 L400.40,218.95 L401.40,219.29 L402.40,219.06 L403.40,219.27 L404.40,218.95 L405.40,218.97 L406.40,218.82 L407.00,220.40 Z" fill="#9c9c9c" stroke="#8a8a8a" stroke-width="0.5" stroke-linejoin="round"/>
<path d="M413.00,220.40 L413.00,219.48 L414.00,219.44 L415.00,219.34 L416.00,219.70 L417.00,219.35 L418.00,219.65 L419.00,219.40 L420.00,219.50 L421.00,218.95 L422.00,219.46 L423.00,218.88 L424.00,218.81 L425.00,219.07 L426.00,218.79 L427.00,219.21 L428.00,219.11 L429.00,219.14 L430.00,219.06 L431.00,219.08 L432.00,218.56 L433.00,218.98 L434.00,218.66 L435.00,218.83 L436.00,218.89 L437.00,218.70 L438.00,218.82 L439.00,218.32 L440.00,218.66 L441.00,218.51 L442.00,218.51 L443.00,218.45 L444.00,218.51 L445.00,218.62 L446.00,218.83 L447.00,218.50 L448.00,219.05 L449.00,219.02 L450.00,218.93 L450.00,220.40 Z" fill="#9c9c9c" stroke="#8a8a8a" stroke-width="0.5" stroke-linejoin="round"/>
<text x="450.80" y="151.90" font-size="13" text-anchor="start" font-weight="normal" font-style="normal" fill="#111" >Control</text>
<text x="450.80" y="175.40" font-size="13" text-anchor="start" font-weight="normal" font-style="normal" fill="#111" >ARID1A KO</text>
<text x="450.80" y="196.20" font-size="13" text-anchor="start" font-weight="normal" font-style="normal" fill="#111" >Control</text>
<text x="450.80" y="219.60" font-size="13" text-anchor="start" font-weight="normal" font-style="normal" fill="#111" >ARID1A KO</text>
<text transform="translate(2.6,244.1) scale(1,1.09)" font-size="16" font-weight="bold" fill="#111">C</text>
<text transform="translate(29.4,329.3) rotate(-90)" font-size="13" text-anchor="middle" fill="#111">Percentage of input</text>
<line x1="70.10" y1="273.60" x2="70.10" y2="393.85" stroke="#111" stroke-width="1.4" />
<line x1="69.40" y1="393.20" x2="250.40" y2="393.20" stroke="#111" stroke-width="1.4" />
<line x1="66.60" y1="273.60" x2="70.10" y2="273.60" stroke="#111" stroke-width="1.4" />
<text x="64.00" y="277.50" font-size="13" text-anchor="end" font-weight="normal" font-style="normal" fill="#111" class="thin">0.22</text>
<line x1="66.60" y1="333.40" x2="70.10" y2="333.40" stroke="#111" stroke-width="1.4" />
<text x="64.00" y="337.30" font-size="13" text-anchor="end" font-weight="normal" font-style="normal" fill="#111" class="thin">0.11</text>
<line x1="66.60" y1="393.20" x2="70.10" y2="393.20" stroke="#111" stroke-width="1.4" />
<text x="64.00" y="397.10" font-size="13" text-anchor="end" font-weight="normal" font-style="normal" fill="#111" class="thin">0.00</text>
<line x1="112.40" y1="393.20" x2="112.40" y2="396.50" stroke="#111" stroke-width="1.3" />
<line x1="208.00" y1="393.20" x2="208.00" y2="396.50" stroke="#111" stroke-width="1.3" />
<rect x="76.50" y="273.40" width="16.80" height="7.60" fill="#fff" stroke="#111" stroke-width="1.4" />
<rect x="76.50" y="290.20" width="16.80" height="7.60" fill="#9b9b9b" stroke="#111" stroke-width="1.4" />
<text x="96.40" y="280.90" font-size="13" text-anchor="start" font-weight="normal" font-style="normal" fill="#111" >Control</text>
<text x="96.40" y="297.80" font-size="13" text-anchor="start" font-weight="normal" font-style="normal" fill="#111" >ARID1A KO</text>
<text x="77.4" y="335.9" font-size="13" fill="#111"><tspan font-style="italic">XBP1</tspan> promoter</text>
<circle cx="85.90" cy="392.60" r="3.6" fill="#111"/>
<circle cx="94.20" cy="392.60" r="3.6" fill="#111"/>
<circle cx="102.50" cy="392.60" r="3.6" fill="#111"/>
<rect x="118.80" y="389.20" width="7.6" height="7.6" fill="#111"/>
<rect x="126.80" y="389.20" width="7.6" height="7.6" fill="#111"/>
<rect x="134.80" y="389.20" width="7.6" height="7.6" fill="#111"/>
<text x="113.60" y="407.40" font-size="13" text-anchor="middle" font-weight="normal" font-style="normal" fill="#111" >IgG</text>
<rect x="179.60" y="308.80" width="22.50" height="84.40" fill="#fff" stroke="#111" stroke-width="1.4" />
<line x1="190.60" y1="275.10" x2="190.60" y2="341.00" stroke="#111" stroke-width="1.4" />
<line x1="184.20" y1="275.10" x2="196.90" y2="275.10" stroke="#111" stroke-width="1.4" />
<line x1="184.00" y1="341.00" x2="197.00" y2="341.00" stroke="#111" stroke-width="1.4" />
<circle cx="190.60" cy="278.90" r="3.6" fill="#111"/>
<circle cx="190.60" cy="300.90" r="3.6" fill="#111"/>
<circle cx="190.60" cy="343.70" r="3.6" fill="#111"/>
<rect x="215.60" y="371.30" width="22.00" height="21.90" fill="#9b9b9b" stroke="#111" stroke-width="1.4" />
<rect x="214.40" y="368.20" width="7.2" height="7.2" fill="#111"/>
<rect x="222.70" y="366.40" width="7.2" height="7.2" fill="#111"/>
<rect x="231.20" y="368.40" width="7.2" height="7.2" fill="#111"/>
<text x="208.50" y="407.60" font-size="13" text-anchor="middle" font-weight="normal" font-style="normal" fill="#111" >Anti-ARID1A</text>
<text x="178.2" y="259.2" font-size="13" fill="#111"><tspan font-style="italic">P</tspan> = 0.0285</text>
<line x1="191.70" y1="266.30" x2="227.80" y2="266.30" stroke="#111" stroke-width="1.4" />
<text transform="translate(291.2,328.3) rotate(-90)" font-size="13" text-anchor="middle" fill="#111">Percentage of input</text>
<line x1="325.00" y1="269.20" x2="325.00" y2="390.05" stroke="#111" stroke-width="1.4" />
<line x1="324.30" y1="389.40" x2="505.80" y2="389.40" stroke="#111" stroke-width="1.4" />
<line x1="321.50" y1="269.20" x2="325.00" y2="269.20" stroke="#111" stroke-width="1.4" />
<text x="318.90" y="273.10" font-size="13" text-anchor="end" font-weight="normal" font-style="normal" fill="#111" class="thin">0.2</text>
<line x1="321.50" y1="329.20" x2="325.00" y2="329.20" stroke="#111" stroke-width="1.4" />
<text x="318.90" y="333.10" font-size="13" text-anchor="end" font-weight="normal" font-style="normal" fill="#111" class="thin">0.1</text>
<line x1="321.50" y1="389.40" x2="325.00" y2="389.40" stroke="#111" stroke-width="1.4" />
<text x="318.90" y="393.30" font-size="13" text-anchor="end" font-weight="normal" font-style="normal" fill="#111" class="thin">0.0</text>
<line x1="367.30" y1="389.40" x2="367.30" y2="392.70" stroke="#111" stroke-width="1.3" />
<line x1="463.50" y1="389.40" x2="463.50" y2="392.70" stroke="#111" stroke-width="1.3" />
<rect x="331.30" y="270.80" width="17.00" height="7.50" fill="#fff" stroke="#111" stroke-width="1.4" />
<rect x="331.30" y="288.10" width="17.00" height="7.50" fill="#9b9b9b" stroke="#111" stroke-width="1.4" />
<text x="351.40" y="278.10" font-size="13" text-anchor="start" font-weight="normal" font-style="normal" fill="#111" >Control</text>
<text x="351.40" y="295.10" font-size="13" text-anchor="start" font-weight="normal" font-style="normal" fill="#111" >ARID1A KO</text>
<text x="332.4" y="333.0" font-size="13" fill="#111"><tspan font-style="italic">XBP1</tspan> promoter</text>
<circle cx="340.80" cy="389.40" r="3.6" fill="#111"/>
<circle cx="348.80" cy="389.40" r="3.6" fill="#111"/>
<circle cx="356.90" cy="389.40" r="3.6" fill="#111"/>
<rect x="373.20" y="385.80" width="7.6" height="7.6" fill="#111"/>
<rect x="381.40" y="385.80" width="7.6" height="7.6" fill="#111"/>
<rect x="389.60" y="385.80" width="7.6" height="7.6" fill="#111"/>
<text x="368.20" y="405.00" font-size="13" text-anchor="middle" font-weight="normal" font-style="normal" fill="#111" >IgG</text>
<rect x="434.30" y="292.90" width="22.30" height="96.50" fill="#fff" stroke="#111" stroke-width="1.4" />
<line x1="445.30" y1="285.50" x2="445.30" y2="295.80" stroke="#111" stroke-width="1.4" />
<line x1="438.90" y1="285.50" x2="451.90" y2="285.50" stroke="#111" stroke-width="1.4" />
<line x1="438.90" y1="295.80" x2="451.90" y2="295.80" stroke="#111" stroke-width="1.4" />
<circle cx="445.30" cy="284.30" r="3.6" fill="#111"/>
<circle cx="436.90" cy="295.10" r="3.6" fill="#111"/>
<circle cx="453.40" cy="294.10" r="3.6" fill="#111"/>
<rect x="470.60" y="375.40" width="22.40" height="14.00" fill="#9b9b9b" stroke="#111" stroke-width="1.4" />
<rect x="469.90" y="370.20" width="7.0" height="7.0" fill="#111"/>
<rect x="478.10" y="368.30" width="7.0" height="7.0" fill="#111"/>
<rect x="486.30" y="369.20" width="7.0" height="7.0" fill="#111"/>
<text x="463.00" y="405.80" font-size="13" text-anchor="middle" font-weight="normal" font-style="normal" fill="#111" >Anti-SNF5</text>
<text x="433.2" y="266.0" font-size="13" fill="#111"><tspan font-style="italic">P</tspan> &lt; 0.0001</text>
<line x1="446.40" y1="272.80" x2="482.70" y2="272.80" stroke="#111" stroke-width="1.4" />
<text transform="translate(2.7,430.8) scale(1,1.08)" font-size="16" font-weight="bold" fill="#111">D</text>
<text transform="translate(70.6,482.4) rotate(-46) scale(0.93,1)" font-size="14.2" fill="#111" class="mid">Control</text>
<text transform="translate(100.5,481.4) rotate(-46) scale(0.93,1)" font-size="14.2" fill="#111" class="mid">CRISPR</text>
<rect x="57.00" y="483.90" width="53.70" height="24.30" fill="#a5a5a5" stroke="#8a8a8a" stroke-width="0.9" />
<rect x="57.00" y="511.40" width="53.70" height="24.50" fill="#a5a5a5" stroke="#8a8a8a" stroke-width="0.9" />
<rect x="57.00" y="538.90" width="53.70" height="24.50" fill="#a5a5a5" stroke="#8a8a8a" stroke-width="0.9" />
<rect x="81.5" y="484.90" width="5" height="22.30" fill="#a9a9a9" filter="url(#bl2)"/>
<rect x="81.5" y="512.40" width="5" height="22.50" fill="#a9a9a9" filter="url(#bl2)"/>
<rect x="81.5" y="539.90" width="5" height="22.50" fill="#a9a9a9" filter="url(#bl2)"/>
<rect x="62" y="530.5" width="44" height="3.5" fill="#999" filter="url(#bl2)"/>
<defs><filter id="bl" x="-10%" y="-100%" width="120%" height="300%"><feGaussianBlur stdDeviation="0.45"/></filter><filter id="bl2" x="-50%" y="-50%" width="200%" height="200%"><feGaussianBlur stdDeviation="1"/></filter></defs>
<path d="M87.00,494.61 L87.88,493.85 L88.75,493.72 L89.62,493.74 L90.50,493.76 L91.38,493.77 L92.25,493.78 L93.12,493.79 L94.00,493.79 L94.88,493.80 L95.75,493.81 L96.62,493.82 L97.50,493.83 L98.38,493.80 L99.25,493.76 L100.12,493.73 L101.00,493.69 L101.88,493.66 L102.75,493.63 L103.62,493.59 L104.50,493.56 L105.38,493.52 L106.25,493.47 L107.12,493.57 L108.00,494.31 L108.00,496.29 L107.12,497.05 L106.25,497.19 L105.38,497.16 L104.50,497.14 L103.62,497.13 L102.75,497.12 L101.88,497.11 L101.00,497.11 L100.12,497.10 L99.25,497.09 L98.38,497.08 L97.50,497.07 L96.62,497.10 L95.75,497.14 L94.88,497.17 L94.00,497.21 L93.12,497.24 L92.25,497.27 L91.38,497.31 L90.50,497.34 L89.62,497.38 L88.75,497.44 L87.88,497.33 L87.00,496.59 Z" fill="#111" opacity="1.0" filter="url(#bl)"/>
<path d="M60.60,523.25 L61.41,522.38 L62.22,522.25 L63.02,522.31 L63.83,522.36 L64.64,522.40 L65.45,522.44 L66.26,522.47 L67.07,522.51 L67.88,522.55 L68.68,522.58 L69.49,522.62 L70.30,522.66 L71.11,522.65 L71.92,522.63 L72.72,522.62 L73.53,522.61 L74.34,522.60 L75.15,522.59 L75.96,522.57 L76.77,522.56 L77.58,522.54 L78.38,522.50 L79.19,522.66 L80.00,523.54 L80.00,525.85 L79.19,526.72 L78.38,526.84 L77.58,526.79 L76.77,526.74 L75.96,526.70 L75.15,526.66 L74.34,526.63 L73.53,526.59 L72.72,526.55 L71.92,526.51 L71.11,526.48 L70.30,526.44 L69.49,526.45 L68.68,526.47 L67.88,526.48 L67.07,526.49 L66.26,526.50 L65.45,526.51 L64.64,526.53 L63.83,526.54 L63.02,526.56 L62.22,526.59 L61.41,526.44 L60.60,525.55 Z" fill="#111" opacity="1.0" filter="url(#bl)"/>
<path d="M87.30,522.60 L88.10,521.77 L88.90,521.63 L89.70,521.68 L90.50,521.71 L91.30,521.73 L92.10,521.76 L92.90,521.78 L93.70,521.80 L94.50,521.83 L95.30,521.85 L96.10,521.88 L96.90,521.90 L97.70,521.88 L98.50,521.85 L99.30,521.83 L100.10,521.80 L100.90,521.78 L101.70,521.76 L102.50,521.73 L103.30,521.71 L104.10,521.68 L104.90,521.63 L105.70,521.77 L106.50,522.60 L106.50,524.80 L105.70,525.63 L104.90,525.77 L104.10,525.73 L103.30,525.69 L102.50,525.67 L101.70,525.64 L100.90,525.62 L100.10,525.60 L99.30,525.57 L98.50,525.55 L97.70,525.52 L96.90,525.50 L96.10,525.52 L95.30,525.55 L94.50,525.57 L93.70,525.60 L92.90,525.62 L92.10,525.64 L91.30,525.67 L90.50,525.69 L89.70,525.73 L88.90,525.77 L88.10,525.63 L87.30,524.80 Z" fill="#484848" opacity="1.0" filter="url(#bl)"/>
<path d="M100.50,522.24 L100.75,522.12 L101.00,522.01 L101.25,521.89 L101.50,521.77 L101.75,521.66 L102.00,521.54 L102.25,521.42 L102.50,521.39 L102.75,521.37 L103.00,521.36 L103.25,521.34 L103.50,521.33 L103.75,521.32 L104.00,521.30 L104.25,521.29 L104.50,521.27 L104.75,521.26 L105.00,521.24 L105.25,521.23 L105.50,521.21 L105.75,521.20 L106.00,521.37 L106.25,521.80 L106.50,522.24 L106.50,524.76 L106.25,525.20 L106.00,525.63 L105.75,525.80 L105.50,525.79 L105.25,525.77 L105.00,525.76 L104.75,525.74 L104.50,525.73 L104.25,525.71 L104.00,525.70 L103.75,525.68 L103.50,525.67 L103.25,525.66 L103.00,525.64 L102.75,525.63 L102.50,525.61 L102.25,525.58 L102.00,525.46 L101.75,525.34 L101.50,525.23 L101.25,525.11 L101.00,524.99 L100.75,524.88 L100.50,524.76 Z" fill="#1a1a1a" opacity="1.0" filter="url(#bl)"/>
<path d="M60.60,550.63 L61.43,549.82 L62.25,549.69 L63.08,549.73 L63.90,549.76 L64.73,549.78 L65.55,549.81 L66.38,549.83 L67.20,549.85 L68.03,549.88 L68.85,549.90 L69.67,549.92 L70.50,549.95 L71.33,549.92 L72.15,549.90 L72.98,549.88 L73.80,549.85 L74.62,549.83 L75.45,549.81 L76.28,549.78 L77.10,549.76 L77.93,549.73 L78.75,549.69 L79.58,549.82 L80.40,550.63 L80.40,552.77 L79.58,553.59 L78.75,553.72 L77.93,553.67 L77.10,553.64 L76.28,553.62 L75.45,553.59 L74.62,553.57 L73.80,553.55 L72.98,553.52 L72.15,553.50 L71.33,553.48 L70.50,553.46 L69.67,553.48 L68.85,553.50 L68.03,553.52 L67.20,553.55 L66.38,553.57 L65.55,553.59 L64.73,553.62 L63.90,553.64 L63.08,553.67 L62.25,553.72 L61.43,553.59 L60.60,552.77 Z" fill="#111" opacity="1.0" filter="url(#bl)"/>
<path d="M83.80,550.63 L84.79,549.82 L85.78,549.69 L86.77,549.73 L87.77,549.76 L88.76,549.78 L89.75,549.81 L90.74,549.83 L91.73,549.85 L92.72,549.88 L93.72,549.90 L94.71,549.92 L95.70,549.95 L96.69,549.92 L97.68,549.90 L98.67,549.88 L99.67,549.85 L100.66,549.83 L101.65,549.81 L102.64,549.78 L103.63,549.76 L104.62,549.73 L105.62,549.69 L106.61,549.82 L107.60,550.63 L107.60,552.77 L106.61,553.59 L105.62,553.72 L104.62,553.67 L103.63,553.64 L102.64,553.62 L101.65,553.59 L100.66,553.57 L99.67,553.55 L98.67,553.52 L97.68,553.50 L96.69,553.48 L95.70,553.46 L94.71,553.48 L93.72,553.50 L92.72,553.52 L91.73,553.55 L90.74,553.57 L89.75,553.59 L88.76,553.62 L87.77,553.64 L86.77,553.67 L85.78,553.72 L84.79,553.59 L83.80,552.77 Z" fill="#111" opacity="1.0" filter="url(#bl)"/>
<text x="112.00" y="500.80" font-size="13" text-anchor="start" font-weight="normal" font-style="normal" fill="#111" class="mid">FLAG</text>
<text x="112.00" y="529.60" font-size="13" text-anchor="start" font-weight="normal" font-style="normal" fill="#111" class="mid">ARID1A</text>
<text x="112.00" y="555.00" font-size="13" text-anchor="start" font-weight="normal" font-style="normal" fill="#111" class="mid">β-Actin</text>
<text transform="translate(182.3,430.9) scale(1,1.06)" font-size="16" font-weight="bold" fill="#111">E</text>
<text transform="translate(223.0,495.0) rotate(-90)" font-size="13" text-anchor="middle" fill="#111">Percentage of input</text>
<line x1="271.50" y1="432.60" x2="271.50" y2="553.25" stroke="#111" stroke-width="1.4" />
<line x1="270.80" y1="552.60" x2="451.90" y2="552.60" stroke="#111" stroke-width="1.4" />
<line x1="268.00" y1="432.60" x2="271.50" y2="432.60" stroke="#111" stroke-width="1.4" />
<text x="265.50" y="436.50" font-size="13" text-anchor="end" font-weight="normal" font-style="normal" fill="#111" class="thin">0.008</text>
<line x1="268.00" y1="492.60" x2="271.50" y2="492.60" stroke="#111" stroke-width="1.4" />
<text x="265.50" y="496.50" font-size="13" text-anchor="end" font-weight="normal" font-style="normal" fill="#111" class="thin">0.004</text>
<line x1="268.00" y1="552.60" x2="271.50" y2="552.60" stroke="#111" stroke-width="1.4" />
<text x="265.50" y="556.50" font-size="13" text-anchor="end" font-weight="normal" font-style="normal" fill="#111" class="thin">0.000</text>
<line x1="313.80" y1="552.60" x2="313.80" y2="555.90" stroke="#111" stroke-width="1.3" />
<line x1="410.40" y1="552.60" x2="410.40" y2="555.90" stroke="#111" stroke-width="1.3" />
<rect x="276.50" y="433.60" width="17.00" height="7.20" fill="#fff" stroke="#111" stroke-width="1.4" />
<rect x="276.50" y="450.90" width="17.00" height="7.40" fill="#9b9b9b" stroke="#111" stroke-width="1.4" />
<text x="297.50" y="441.20" font-size="13" text-anchor="start" font-weight="normal" font-style="normal" fill="#111" >Control</text>
<text x="297.50" y="458.70" font-size="13" text-anchor="start" font-weight="normal" font-style="normal" fill="#111" >FLAG-ARID1A</text>
<text x="278.8" y="493.8" font-size="13" fill="#111"><tspan font-style="italic">XBP1</tspan> promoter</text>
<rect x="284.60" y="537.30" width="21.80" height="15.30" fill="#fff" stroke="#111" stroke-width="1.4" />
<line x1="296.00" y1="530.80" x2="296.00" y2="539.60" stroke="#111" stroke-width="1.4" />
<line x1="289.20" y1="530.80" x2="302.70" y2="530.80" stroke="#111" stroke-width="1.4" />
<line x1="289.20" y1="539.40" x2="302.70" y2="539.40" stroke="#111" stroke-width="1.4" />
<circle cx="296.00" cy="529.60" r="3.0" fill="#111"/>
<circle cx="291.50" cy="539.80" r="3.0" fill="#111"/>
<circle cx="299.80" cy="539.80" r="3.0" fill="#111"/>
<rect x="320.80" y="538.50" width="22.20" height="14.10" fill="#9b9b9b" stroke="#111" stroke-width="1.4" />
<line x1="331.50" y1="529.60" x2="331.50" y2="544.20" stroke="#111" stroke-width="1.4" />
<line x1="325.80" y1="529.60" x2="338.30" y2="529.60" stroke="#111" stroke-width="1.4" />
<line x1="325.80" y1="543.70" x2="338.30" y2="543.70" stroke="#111" stroke-width="1.4" />
<rect x="328.70" y="526.80" width="5.6" height="5.6" fill="#111"/>
<rect x="328.70" y="532.40" width="5.6" height="5.6" fill="#111"/>
<rect x="328.70" y="541.40" width="5.6" height="5.6" fill="#111"/>
<text x="314.00" y="568.80" font-size="13" text-anchor="middle" font-weight="normal" font-style="normal" fill="#111" >IgG</text>
<rect x="381.00" y="539.20" width="21.60" height="13.40" fill="#fff" stroke="#111" stroke-width="1.4" />
<line x1="391.70" y1="529.00" x2="391.70" y2="547.30" stroke="#111" stroke-width="1.4" />
<line x1="386.00" y1="529.00" x2="398.00" y2="529.00" stroke="#111" stroke-width="1.4" />
<line x1="386.00" y1="547.30" x2="398.00" y2="547.30" stroke="#111" stroke-width="1.4" />
<circle cx="391.70" cy="529.00" r="3.0" fill="#111"/>
<circle cx="391.70" cy="537.30" r="3.0" fill="#111"/>
<circle cx="391.70" cy="547.30" r="3.0" fill="#111"/>
<rect x="417.20" y="469.60" width="21.40" height="83.00" fill="#9b9b9b" stroke="#111" stroke-width="1.4" />
<line x1="429.50" y1="465.00" x2="429.50" y2="471.50" stroke="#111" stroke-width="1.2" />
<line x1="425.80" y1="465.00" x2="434.40" y2="465.00" stroke="#111" stroke-width="1.2" />
<line x1="425.80" y1="471.50" x2="434.40" y2="471.50" stroke="#111" stroke-width="1.2" />
<rect x="420.00" y="461.50" width="5.8" height="5.8" fill="#111"/>
<rect x="429.60" y="464.30" width="5.8" height="5.8" fill="#111"/>
<rect x="420.00" y="469.50" width="5.8" height="5.8" fill="#111"/>
<text x="408.30" y="568.70" font-size="13" text-anchor="middle" font-weight="normal" font-style="normal" fill="#111" >Anti-FLAG</text>
<text x="387.7" y="454.3" font-size="13" fill="#111"><tspan font-style="italic">P</tspan> = 0.0003</text>
<line x1="394.00" y1="459.40" x2="431.20" y2="459.40" stroke="#111" stroke-width="1.4" />
</svg>
</body></html>
